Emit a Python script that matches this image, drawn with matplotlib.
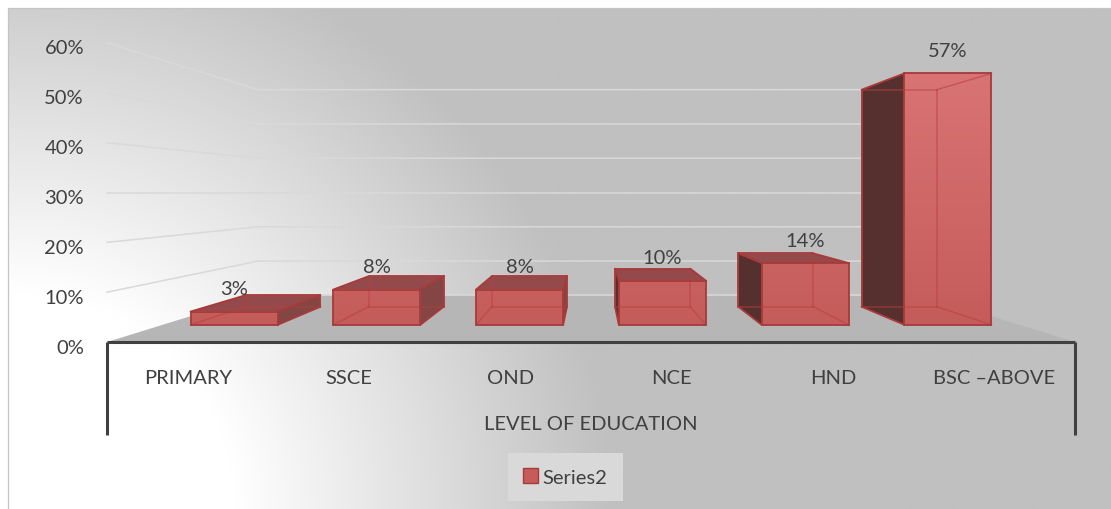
import numpy as np
import matplotlib
matplotlib.use("Agg")
import matplotlib.pyplot as plt
from matplotlib.patches import Polygon, Rectangle, Patch
from matplotlib.lines import Line2D
from matplotlib.transforms import Affine2D, IdentityTransform, offset_copy
from matplotlib.colors import to_rgb

# ---- data -------------------------------------------------------------
categories = ["PRIMARY", "SSCE", "OND", "NCE", "HND", "BSC \u2013ABOVE"]
values = [0.03, 0.08, 0.08, 0.10, 0.14, 0.57]
y_ticks = [0.0, 0.1, 0.2, 0.3, 0.4, 0.5, 0.6]
y_tick_labels = ["0%", "10%", "20%", "30%", "40%", "50%", "60%"]
axis_title = "LEVEL OF EDUCATION"
series_name = "Series2"

# ---- style ------------------------------------------------------------
W, H, DPI = 1111, 510, 100
FONT = ["Lato", "DejaVu Sans"]
FS = 14.5
TXT = "#404040"
GRID = "#d9d9d9"
FLOOR = "#b6b6b6"
AXIS_LINE = "#404040"
EDGE = "#a83a38"
FACE_TOP = "#94494a"
FACE_RIGHT = "#834644"
FACE_LEFT = "#56302f"
FRONT_LIGHT = np.array(to_rgb("#d97474"))
FRONT_DARK = np.array(to_rgb("#c45c5a"))

# perspective: eye height / horizontal centre, and scale of each depth plane
VP_X, VP_V = 2.5, 0.30
S_WALL = 0.688
S_BAR_FRONT = 0.885
S_BAR_BACK = 0.764
BAR_HALF = 0.305
CAT_AXIS_LOW = -0.187

plt.rcParams["font.family"] = FONT
fig = plt.figure(figsize=(W / DPI, H / DPI), dpi=DPI)

# chart-area background: soft gradient from the lower-left corner
bg = fig.add_axes([0, 0, 1, 1])
bg.set_xlim(0, W)
bg.set_ylim(H, 0)
bg.axis("off")
yy, xx = np.mgrid[0:H, 0:W]
d = np.hypot(xx - 8, yy - H)
frac = np.clip((d - 220) / 380.0, 0, 1)
shade = 1.0 - frac * (63 / 255.0)
img = np.dstack([shade, shade, shade])
bg.imshow(img, extent=(8, W, H, 9), origin="upper", aspect="auto", zorder=0)
bg.add_patch(Rectangle((8, 9), W, H, fill=False, ec="#c4c4c4", lw=0.9, zorder=1))

# front plane of the plot
ax = fig.add_axes([107 / W, (H - 343) / H, 968 / W, 299 / H])
ax.set_xlim(-0.5, len(categories) - 0.5)
ax.set_ylim(0, 0.6)
ax.set_autoscale_on(False)
ax.axis("off")
ax.patch.set_visible(False)

vx, vy = ax.transData.transform((VP_X, VP_V))


def plane(s):
    return ax.transData + Affine2D().translate(-vx, -vy).scale(s).translate(vx, vy)


def proj(x, v, s):
    return plane(s).transform((x, v))


x_left, x_right = -0.5, len(categories) - 0.5

# floor
floor = np.array([proj(x_left, 0, 1), proj(x_right, 0, 1),
                  proj(x_right, 0, S_WALL), proj(x_left, 0, S_WALL)])
ax.add_patch(Polygon(floor, closed=True, transform=IdentityTransform(),
                     fc=FLOOR, ec="none", zorder=1, clip_on=False))

# gridlines on the side wall and back wall
for v in y_ticks:
    if v == 0:
        pts = np.array([proj(x_left, v, S_WALL), proj(x_right, v, S_WALL)])
    else:
        pts = np.array([proj(x_left, v, 1), proj(x_left, v, S_WALL),
                        proj(x_right, v, S_WALL)])
    ax.add_line(Line2D(pts[:, 0], pts[:, 1], transform=IdentityTransform(),
                       color=GRID, lw=1.1, zorder=2, clip_on=False))

# value-axis labels
for v, lab in zip(y_ticks, y_tick_labels):
    ax.text(x_left, v, lab, ha="right", va="center", fontsize=FS, color=TXT,
            transform=offset_copy(ax.transData, fig, x=-23, y=-5, units="dots"))

# category axis frame
ax.plot([x_left, x_right], [0, 0], color=AXIS_LINE, lw=2.2, zorder=3,
        clip_on=False, solid_capstyle="butt")
for xe in (x_left, x_right):
    ax.plot([xe, xe], [0, CAT_AXIS_LOW], color=AXIS_LINE, lw=2.2, zorder=3,
            clip_on=False, solid_capstyle="butt")

for i, lab in enumerate(categories):
    ax.text(i, 0, lab, ha="center", va="center", fontsize=FS, color=TXT,
            transform=offset_copy(ax.transData, fig, x=0, y=-35, units="dots"))
ax.text((x_left + x_right) / 2, 0, axis_title, ha="center", va="center",
        fontsize=FS, color=TXT,
        transform=offset_copy(ax.transData, fig, x=0, y=-81, units="dots"))


def front_fill(pts, z):
    clip = Polygon(pts, closed=True, transform=IdentityTransform(),
                   fc="none", ec="none", zorder=z)
    ax.add_patch(clip)
    ys = np.linspace(pts[:, 1].max(), pts[:, 1].min(), 128)
    t = np.clip(((H - ys) - 75) / 250.0, 0, 1)[:, None]
    cols = FRONT_LIGHT * (1 - t) + FRONT_DARK * t
    inv = ax.transData.inverted()
    x0d, y0d = inv.transform((pts[:, 0].min(), pts[:, 1].min()))
    x1d, y1d = inv.transform((pts[:, 0].max(), pts[:, 1].max()))
    im = ax.imshow(cols[:, None, :], extent=(x0d, x1d, y0d, y1d),
                   origin="upper", aspect="auto", interpolation="bilinear",
                   zorder=z)
    im.set_clip_path(clip)


# bars
for i, v in enumerate(values):
    x0, x1 = i - BAR_HALF, i + BAR_HALF
    A, B, C, D = (proj(x0, 0, S_BAR_FRONT), proj(x1, 0, S_BAR_FRONT),
                  proj(x1, v, S_BAR_FRONT), proj(x0, v, S_BAR_FRONT))
    E, F, G, Hc = (proj(x0, 0, S_BAR_BACK), proj(x1, 0, S_BAR_BACK),
                   proj(x1, v, S_BAR_BACK), proj(x0, v, S_BAR_BACK))
    corners = {"A": A, "B": B, "C": C, "D": D, "E": E, "F": F, "G": G, "H": Hc}
    faces = [("ABCD", None)]
    if x0 > VP_X:
        faces.append(("ADHE", FACE_LEFT))
    if x1 < VP_X:
        faces.append(("BCGF", FACE_RIGHT))
    if v < VP_V:
        faces.append(("DCGH", FACE_TOP))

    z = 4 + i * 0.1
    for key, col in faces:
        pts = np.array([corners[k] for k in key])
        if col is None:
            front_fill(pts, z + 0.02)
        else:
            ax.add_patch(Polygon(pts, closed=True, transform=IdentityTransform(),
                                 fc=col, ec="none", zorder=z + 0.01,
                                 clip_on=False))

    all_edges = ["AB", "BC", "CD", "DA", "EF", "FG", "GH", "HE",
                 "AE", "BF", "CG", "DH"]
    vis = set()
    for key, _ in faces:
        for j in range(4):
            e = "".join(sorted(key[j] + key[(j + 1) % 4]))
            vis.add(e)
    for e in all_edges:
        ek = "".join(sorted(e))
        p, q = corners[e[0]], corners[e[1]]
        if ek in vis:
            ax.add_line(Line2D([p[0], q[0]], [p[1], q[1]],
                               transform=IdentityTransform(), color=EDGE,
                               lw=1.3, zorder=z + 0.05, clip_on=False,
                               solid_capstyle="round"))
        else:
            ax.add_line(Line2D([p[0], q[0]], [p[1], q[1]],
                               transform=IdentityTransform(), color="#b8403e",
                               lw=1.1, alpha=0.55, zorder=z + 0.04,
                               clip_on=False))

    ax.text(i, v, f"{round(v * 100)}%", ha="center", va="center",
            fontsize=FS, color=TXT, zorder=10,
            transform=plane(S_BAR_FRONT) + Affine2D().translate(0, 23))

# legend
handle = Patch(facecolor="#c55c5a", edgecolor=EDGE, linewidth=1.0)
leg = fig.legend([handle], [series_name], loc="center",
                 bbox_to_anchor=(565.5 / W, 1 - 478 / H),
                 fontsize=FS, frameon=True, fancybox=False,
                 handlelength=0.7, handleheight=0.7, handletextpad=0.25,
                 borderpad=0.75, borderaxespad=0)
leg.get_frame().set_facecolor("#d9d9d9")
leg.get_frame().set_edgecolor("none")
leg.get_frame().set_alpha(1)
for t in leg.get_texts():
    t.set_color(TXT)

fig.savefig("out.png", dpi=DPI, facecolor="white")
